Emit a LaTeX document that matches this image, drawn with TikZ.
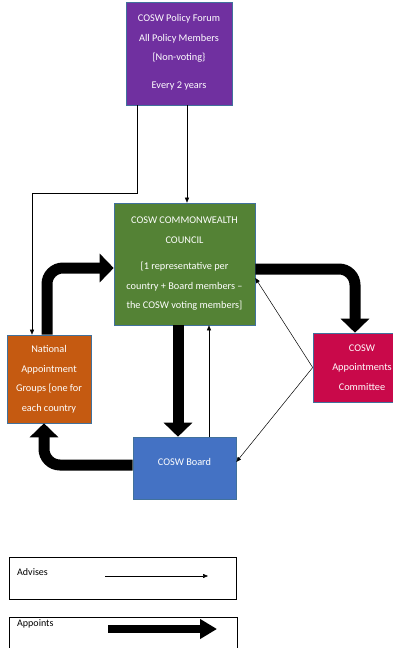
\documentclass[tikz,border=0pt]{standalone}
\usepackage{fontspec}
\setmainfont{Carlito}
\usetikzlibrary{arrows.meta,calc}
\definecolor{cpurple}{HTML}{7030A0}
\definecolor{cgreen}{HTML}{548235}
\definecolor{corange}{HTML}{C55A11}
\definecolor{cred}{HTML}{C9094A}
\definecolor{cblue}{HTML}{4472C4}
\definecolor{cedge}{HTML}{41719C}
\tikzset{
  box/.style={draw=cedge, line width=0.6pt, text=white, align=center,
    font=\fontsize{10.3}{19.5}\selectfont, inner sep=0pt},
  advise/.style={draw=black, line width=0.5pt, -{Triangle[length=5pt,width=4pt]}},
  appoint/.style={draw=black, line width=11pt, rounded corners=16pt,
    -{Triangle[length=14pt,width=28pt]}},
  legbox/.style={draw=black, line width=0.6pt, fill=white, inner sep=0pt},
  legtext/.style={font=\fontsize{10}{12}\selectfont, anchor=west, inner sep=0pt}
}
\begin{document}
\begin{tikzpicture}[x=1pt,y=-1pt]
\useasboundingbox[fill=white] (0,0) rectangle (393,648);
% boxes
\node[box, fill=cpurple, minimum width=106pt, minimum height=103pt] (purple) at (179,53.5)
  {\\[-15pt]COSW Policy Forum\\All Policy Members\\{}[Non-voting\}\\[8pt]Every 2 years};
\node[box, fill=cgreen, minimum width=141pt, minimum height=122pt] (green) at (184.5,264)
  {COSW COMMONWEALTH\\COUNCIL\\[7pt]{}[1 representative per\\country + Board members –\\the COSW voting members]};
\node[box, fill=corange, minimum width=84pt, minimum height=88pt] (orange) at (49,379)
  {National\\Appointment\\Groups [one for\\each country};
\node[box, fill=cred, minimum width=98pt, minimum height=69pt] (red) at (362,367.5)
  {COSW\\Appointments\\Committee};
\node[box, fill=cblue, minimum width=103pt, minimum height=62pt, text depth=12pt] (blue) at (184.5,468)
  {COSW Board};
% thick "appoints" arrows
\draw[appoint] ([xshift=-2pt]orange.north) |- ([yshift=-4pt]green.west);
\draw[appoint] ([yshift=-5pt]green.east) -| ([xshift=-7pt]red.north);
\draw[appoint] ([xshift=-6.5pt]green.south) -- ([xshift=-6.5pt]blue.north);
\draw[appoint] ([yshift=3pt]blue.west) -| ([xshift=-5pt]orange.south);
% thin "advises" arrows
\draw[advise] ([xshift=8pt]purple.south) -- ([xshift=8pt]purple.south |- green.north);
\draw[advise] ([xshift=-42pt]purple.south) -- ++(0,88) -| ([xshift=-17pt]orange.north);
\draw[advise] ([xshift=24.5pt]blue.north) -- ([xshift=24.5pt]green.south);
\draw[advise] (red.west) -- ([yshift=-14pt]green.east);
\draw[advise] (red.west) -- ([yshift=6pt]blue.east);
% legend
\node[legbox, minimum width=227pt, minimum height=42pt] (leg1) at (122.5,578) {};
\node[legbox, minimum width=228pt, minimum height=44pt] (leg2) at (123,639) {};
\node[legtext] (advtext) at (17,572) {Advises};
\node[legtext] (apptext) at (17,624) {Appoints};
\coordinate (a1) at (105,576);
\coordinate (a2) at (208,576);
\draw[advise] (a1) -- (a2);
\coordinate (b1) at (108,629);
\coordinate (b2) at (217,629);
\draw[draw=black, line width=8pt, -{Triangle[length=17pt,width=19pt]}] (b1) -- (b2);
\end{tikzpicture}
\end{document}
